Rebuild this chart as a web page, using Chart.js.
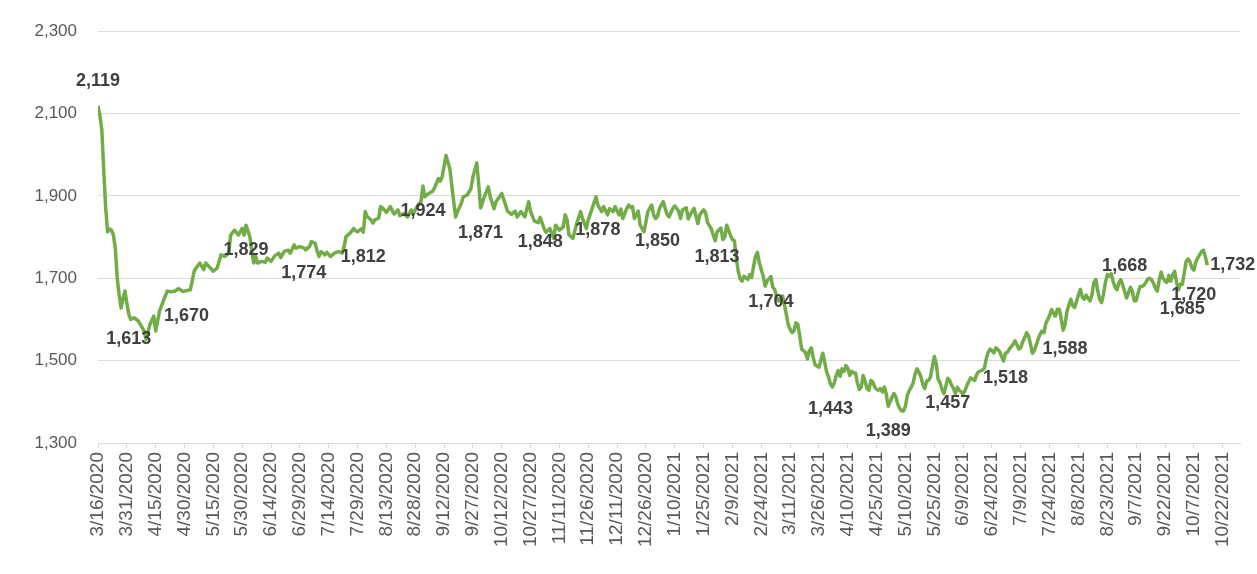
<!DOCTYPE html>
<html>
<head>
<meta charset="utf-8">
<script src="https://cdn.jsdelivr.net/npm/chart.js@4.4.1/dist/chart.umd.min.js"></script>
<style>
  html, body { margin: 0; padding: 0; background: #fff; }
  #wrap { width: 1257px; height: 574px; }
</style>
</head>
<body>
<div id="wrap"><canvas id="chart" width="1257" height="574"></canvas></div>
<script>
// days counted from 3/16/2020
const tickLabels = ['3/16/2020', '3/31/2020', '4/15/2020', '4/30/2020', '5/15/2020', '5/30/2020', '6/14/2020', '6/29/2020',
    '7/14/2020', '7/29/2020', '8/13/2020', '8/28/2020', '9/12/2020', '9/27/2020', '10/12/2020', '10/27/2020',
    '11/11/2020', '11/26/2020', '12/11/2020', '12/26/2020', '1/10/2021', '1/25/2021', '2/9/2021', '2/24/2021',
    '3/11/2021', '3/26/2021', '4/10/2021', '4/25/2021', '5/10/2021', '5/25/2021', '6/9/2021', '6/24/2021',
    '7/9/2021', '7/24/2021', '8/8/2021', '8/23/2021', '9/7/2021', '9/22/2021', '10/7/2021', '10/22/2021'];

const days = [0, 1, 2, 3, 4, 5, 6, 7, 8, 9, 10, 11, 12, 13, 14, 15, 16, 17, 19, 21, 22, 24, 25, 27, 29, 30, 32, 34, 36, 38,
    40, 42, 44, 46, 48, 49, 50, 51, 53, 55, 56, 58, 60, 62, 64, 66, 68, 69, 71, 73, 75, 76, 77, 79, 80, 81, 82, 83, 85, 87,
    88, 90, 92, 94, 95, 97, 99, 100, 102, 103, 105, 107, 108, 110, 111, 113, 114, 115, 116, 118, 119, 121, 123, 125, 127, 128, 129, 131, 133, 134,
    135, 137, 138, 139, 140, 142, 143, 144, 146, 147, 148, 150, 152, 154, 156, 157, 159, 161, 163, 164, 166, 168, 169, 170, 172, 174, 175, 177, 178, 179,
    181, 183, 184, 186, 187, 189, 190, 192, 194, 195, 197, 198, 199, 201, 203, 204, 206, 207, 210, 212, 213, 215, 217, 218, 220, 222, 224, 225, 227, 229,
    230, 232, 233, 235, 237, 238, 240, 242, 243, 244, 245, 247, 249, 251, 252, 254, 255, 257, 259, 260, 262, 263, 265, 266, 268, 269, 271, 272, 273, 275,
    276, 277, 278, 279, 281, 282, 284, 285, 286, 288, 289, 290, 291, 292, 293, 294, 296, 297, 299, 300, 302, 303, 304, 306, 307, 308, 310, 312, 313, 315,
    316, 317, 319, 320, 321, 322, 324, 325, 326, 327, 329, 330, 331, 332, 333, 334, 335, 336, 338, 339, 340, 341, 342, 343, 344, 346, 347, 348, 350, 351,
    352, 353, 354, 356, 357, 358, 359, 360, 361, 362, 363, 364, 365, 366, 368, 369, 370, 371, 372, 373, 375, 376, 377, 378, 379, 380, 381, 382, 383, 384,
    385, 386, 387, 388, 389, 390, 391, 392, 393, 394, 395, 396, 397, 398, 399, 400, 401, 402, 403, 404, 405, 406, 407, 408, 409, 410, 411, 412, 413, 414,
    415, 416, 417, 418, 419, 420, 421, 422, 423, 424, 425, 426, 427, 428, 429, 430, 431, 432, 433, 434, 435, 436, 437, 438, 439, 440, 441, 442, 443, 444,
    445, 446, 447, 448, 450, 451, 452, 453, 454, 456, 457, 458, 460, 461, 462, 463, 464, 465, 466, 467, 469, 470, 471, 472, 473, 474, 476, 477, 478, 479,
    480, 481, 482, 483, 484, 485, 486, 487, 488, 489, 490, 491, 492, 493, 494, 495, 496, 497, 498, 499, 500, 501, 502, 503, 504, 505, 506, 507, 508, 509,
    510, 511, 512, 513, 514, 515, 516, 517, 518, 519, 520, 521, 522, 523, 524, 525, 526, 527, 528, 529, 530, 531, 532, 533, 534, 535, 536, 537, 538, 539,
    540, 541, 542, 543, 544, 545, 546, 547, 548, 549, 550, 551, 552, 553, 554, 555, 556, 557, 558, 559, 560, 561, 562, 563, 564, 565, 566, 567, 568, 569,
    570, 571, 572, 573, 574, 575, 576, 577];

const values = [2119, 2095, 2060, 1960, 1870, 1813, 1820, 1817, 1805, 1773, 1700, 1660, 1628, 1650, 1669, 1640, 1613, 1600, 1604, 1596, 1588, 1572, 1552, 1588, 1608, 1572, 1620, 1645, 1669, 1667,
    1669, 1675, 1668, 1670, 1672, 1693, 1717, 1725, 1737, 1721, 1737, 1727, 1717, 1725, 1757, 1753, 1761, 1805, 1817, 1805, 1821, 1805, 1829, 1801, 1765, 1737, 1753, 1737, 1741, 1739,
    1749, 1741, 1755, 1761, 1750, 1766, 1768, 1761, 1781, 1773, 1777, 1774, 1769, 1777, 1789, 1785, 1765, 1753, 1765, 1757, 1763, 1753, 1761, 1765, 1761, 1777, 1801, 1809, 1821, 1815,
    1813, 1820, 1812, 1862, 1850, 1842, 1834, 1842, 1846, 1874, 1871, 1860, 1874, 1856, 1866, 1852, 1857, 1849, 1866, 1857, 1874, 1886, 1924, 1898, 1906, 1911, 1919, 1942, 1936, 1946,
    1998, 1966, 1926, 1849, 1862, 1882, 1898, 1902, 1918, 1946, 1980, 1930, 1871, 1898, 1922, 1898, 1869, 1886, 1906, 1878, 1863, 1855, 1863, 1849, 1862, 1849, 1886, 1862, 1839, 1835,
    1848, 1821, 1812, 1821, 1797, 1829, 1817, 1825, 1854, 1841, 1805, 1797, 1833, 1862, 1845, 1821, 1842, 1869, 1898, 1878, 1862, 1874, 1854, 1869, 1862, 1874, 1854, 1868, 1845, 1869,
    1878, 1872, 1874, 1845, 1863, 1829, 1813, 1837, 1862, 1878, 1854, 1845, 1850, 1869, 1878, 1886, 1855, 1849, 1870, 1876, 1863, 1845, 1866, 1871, 1844, 1854, 1870, 1833, 1854, 1866,
    1860, 1836, 1820, 1805, 1791, 1813, 1822, 1794, 1800, 1829, 1804, 1794, 1791, 1749, 1717, 1699, 1693, 1705, 1697, 1709, 1702, 1729, 1753, 1763, 1737, 1705, 1681, 1693, 1704, 1678,
    1673, 1653, 1645, 1657, 1637, 1613, 1588, 1576, 1568, 1572, 1592, 1588, 1560, 1528, 1519, 1504, 1524, 1531, 1508, 1490, 1484, 1501, 1518, 1496, 1472, 1460, 1443, 1436, 1446, 1464,
    1476, 1462, 1480, 1474, 1488, 1482, 1464, 1474, 1470, 1470, 1446, 1430, 1436, 1464, 1450, 1432, 1428, 1452, 1448, 1436, 1430, 1428, 1432, 1424, 1436, 1419, 1389, 1400, 1411, 1420,
    1412, 1394, 1384, 1378, 1378, 1390, 1416, 1428, 1436, 1446, 1468, 1480, 1472, 1461, 1443, 1432, 1450, 1452, 1460, 1486, 1510, 1492, 1455, 1446, 1430, 1420, 1438, 1457, 1452, 1440,
    1432, 1420, 1435, 1428, 1420, 1428, 1440, 1450, 1458, 1452, 1466, 1473, 1477, 1481, 1504, 1520, 1528, 1524, 1519, 1531, 1522, 1510, 1499, 1518, 1520, 1528, 1540, 1548, 1538, 1528,
    1532, 1546, 1556, 1568, 1560, 1540, 1518, 1524, 1538, 1552, 1564, 1572, 1568, 1590, 1600, 1610, 1624, 1615, 1608, 1625, 1625, 1601, 1574, 1588, 1620, 1635, 1649, 1633, 1629, 1645,
    1660, 1673, 1654, 1649, 1659, 1651, 1645, 1660, 1690, 1697, 1670, 1649, 1641, 1661, 1690, 1709, 1705, 1711, 1693, 1678, 1672, 1689, 1697, 1683, 1668, 1652, 1665, 1678, 1668, 1645,
    1646, 1664, 1680, 1680, 1683, 1690, 1698, 1700, 1696, 1688, 1676, 1669, 1696, 1715, 1700, 1693, 1690, 1707, 1693, 1709, 1717, 1690, 1672, 1686, 1685, 1713, 1741, 1747, 1740, 1725,
    1720, 1739, 1749, 1757, 1765, 1768, 1752, 1732];

// points that carry a value label (first of each month, plus the last ones)
const labelDays = [0, 16, 46, 77, 107, 138, 169, 199, 230, 260, 291, 322, 350, 381, 411, 442, 472, 503, 534, 564, 570, 577];
const labelsAbove = [0, 534];
const labelsRight = [577];

const FONT = '"Liberation Sans", Arial, sans-serif';
Chart.defaults.font.family = FONT;

const valueLabels = {
    id: 'valueLabels',
    afterDatasetsDraw(chart) {
        const { ctx, scales: { x, y } } = chart;
        ctx.save();
        ctx.font = 'bold 18px ' + FONT;
        ctx.fillStyle = '#404040';
        ctx.textBaseline = 'middle';
        labelDays.forEach(d => {
            const v = values[days.indexOf(d)];
            const px = x.getPixelForValue(d);
            const py = y.getPixelForValue(v);
            const txt = v.toLocaleString('en-US');
            if (labelsRight.includes(d)) {
                ctx.textAlign = 'left';
                ctx.fillText(txt, px + 3, py);
            } else {
                ctx.textAlign = 'center';
                ctx.fillText(txt, px, labelsAbove.includes(d) ? py - 25 : py + 25);
            }
        });
        ctx.restore();
    }
};

new Chart(document.getElementById('chart'), {
    type: 'line',
    data: {
        datasets: [{
            data: days.map((d, i) => ({ x: d, y: values[i] })),
            borderColor: '#70AD47',
            borderWidth: 3.5,
            borderJoinStyle: 'round',
            pointRadius: 0,
            tension: 0,
            fill: false
        }]
    },
    options: {
        responsive: false,
        animation: false,
        layout: { padding: { top: 28, right: 17, left: 0, bottom: 0 } },
        plugins: { legend: { display: false }, tooltip: { enabled: false } },
        scales: {
            x: {
                type: 'linear',
                min: 0,
                max: 594,
                afterBuildTicks: s => { s.ticks = tickLabels.map((_, i) => ({ value: i * 15 })); },
                afterFit: s => { s.height = 131; },
                grid: { drawOnChartArea: false, drawTicks: true, tickLength: 5, color: '#D9D9D9' },
                border: { color: '#D9D9D9' },
                ticks: {
                    autoSkip: false,
                    minRotation: 90,
                    maxRotation: 90,
                    padding: 4,
                    color: '#595959',
                    font: { size: 19 },
                    callback: v => tickLabels[Math.round(v / 15)]
                }
            },
            y: {
                min: 1300,
                max: 2300,
                afterFit: s => { s.width = 98; },
                grid: { color: '#D9D9D9', drawTicks: false },
                border: { display: false },
                ticks: {
                    stepSize: 200,
                    padding: 21,
                    color: '#595959',
                    font: { size: 17 },
                    callback: v => v.toLocaleString('en-US')
                }
            }
        }
    },
    plugins: [valueLabels]
});
</script>
</body>
</html>
